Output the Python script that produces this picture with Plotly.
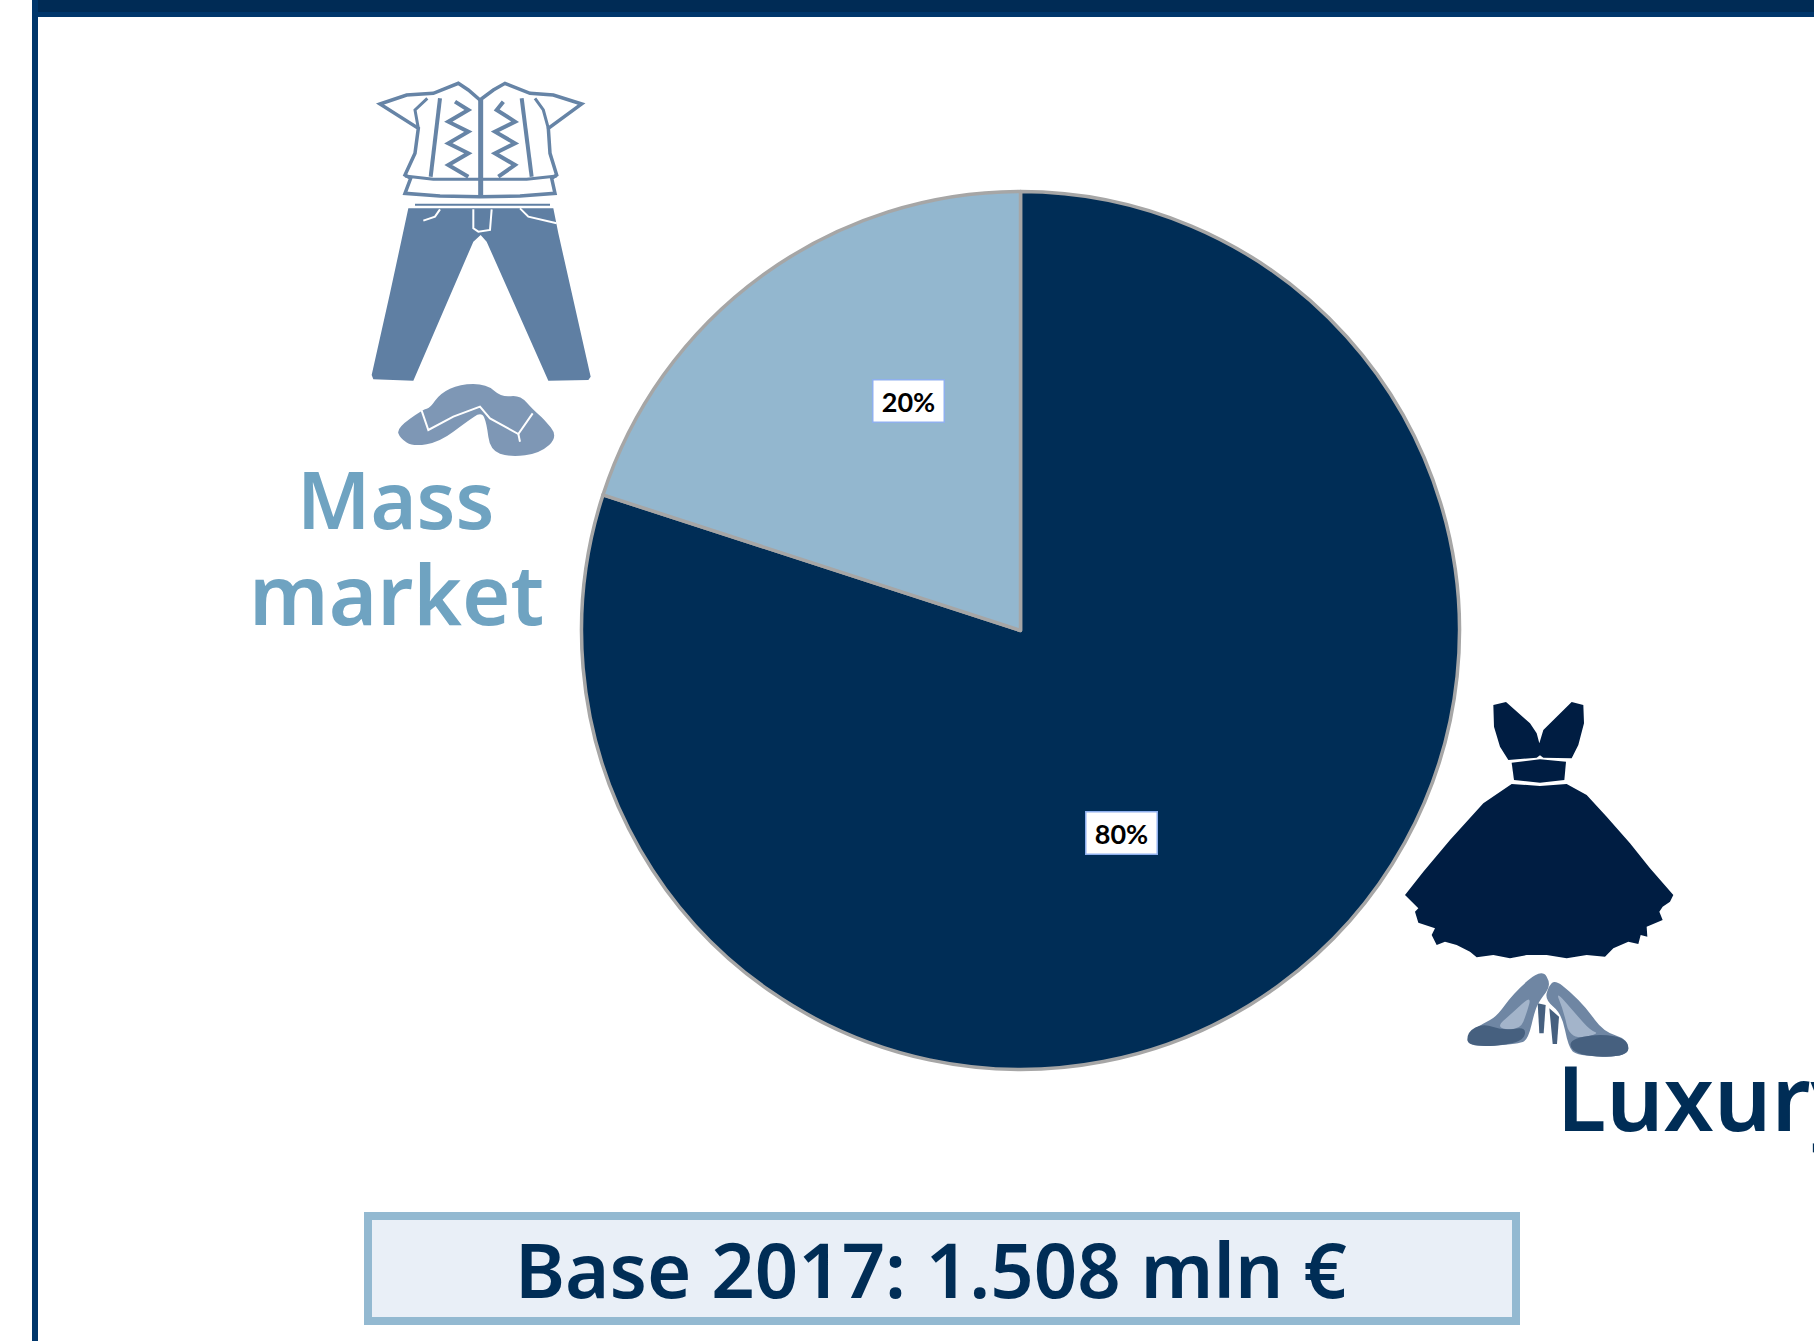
import plotly.graph_objects as go

W, H = 1814, 1341

categories = ["Luxury", "Mass market"]
shares = [80, 20]
base_note = "Base 2017: 1.508 mln €"

DARK = "#002D56"
LIGHT = "#93B7CF"
MASS_TXT = "#6FA3C1"
EDGE = "#A6A6A6"
FONT = "Noto Sans"


def px(x):
    return x / W


def py(y):
    return 1 - y / H


def _style(d, fill, line, width):
    return dict(type="path", xref="paper", yref="paper", path=d,
                fillcolor=fill if fill else "rgba(0,0,0,0)",
                line=dict(color=line if line else "rgba(0,0,0,0)", width=width),
                layer="above")


def poly(points, ox, oy, fill=None, line=None, width=0, closed=True):
    pts = [(ox + a / 3, oy + b / 3) for a, b in points]
    d = "M " + " L ".join(f"{px(a):.5f},{py(b):.5f}" for a, b in pts)
    if closed:
        d += " Z"
    return _style(d, fill, line, width)


def smooth(points, ox, oy, fill=None, line=None, width=0):
    """Closed outline rounded through the mid-points of its edges."""
    pts = [(ox + a / 3, oy + b / 3) for a, b in points]
    n = len(pts)
    mid = [((pts[i][0] + pts[(i + 1) % n][0]) / 2, (pts[i][1] + pts[(i + 1) % n][1]) / 2) for i in range(n)]
    d = f"M {px(mid[-1][0]):.5f},{py(mid[-1][1]):.5f}"
    for i in range(n):
        d += f" Q {px(pts[i][0]):.5f},{py(pts[i][1]):.5f} {px(mid[i][0]):.5f},{py(mid[i][1]):.5f}"
    return _style(d + " Z", fill, line, width)


def rect(x0, y0, x1, y1, fill, line=None, width=0):
    return dict(type="rect", xref="paper", yref="paper",
                x0=px(x0), x1=px(x1), y0=py(y0), y1=py(y1),
                fillcolor=fill, layer="above",
                line=dict(color=line if line else "rgba(0,0,0,0)", width=width))


shapes = [
    rect(32, 0, W, 17, "#00366B"),
    rect(38, 0, W, 12, "#002B55"),
    rect(32, 0, 38, H, "#00366B"),
    rect(368, 1216, 1516, 1321, "#E9EFF7", "#93B9D1", 8),
]

# ---- mass-market icon (reference crop at 340,60, crop units)
S_O, S_Y = 340, 60
SHIRT = "#6684A6"
shapes += [
    poly([(120, 132), (200, 105), (280, 100), (355, 70), (385, 90), (420, 120), (460, 90), (495, 70),
          (570, 100), (640, 105), (725, 132), (625, 205), (630, 280), (650, 345), (635, 355), (645, 400),
          (540, 408), (420, 410), (300, 408), (195, 400), (212, 355), (195, 345), (225, 280), (235, 205)],
         S_O, S_Y, "#FFFFFF", SHIRT, 3.5),
    poly([(345, 125), (385, 150), (325, 185), (385, 215), (325, 250), (385, 280), (325, 315), (385, 350)],
         S_O, S_Y, None, SHIRT, 4, False),
    poly([(490, 125), (470, 150), (525, 185), (465, 215), (525, 250), (465, 280), (525, 315), (475, 350)],
         S_O, S_Y, None, SHIRT, 4, False),
    poly([(422, 120), (422, 410)], S_O, S_Y, None, SHIRT, 5, False),
    poly([(300, 115), (272, 350)], S_O, S_Y, None, SHIRT, 4, False),
    poly([(545, 115), (575, 350)], S_O, S_Y, None, SHIRT, 4, False),
    poly([(195, 348), (280, 358), (560, 358), (650, 348)], S_O, S_Y, None, SHIRT, 3, False),
    poly([(235, 205), (225, 150), (262, 115)], S_O, S_Y, None, SHIRT, 3, False),
    poly([(625, 205), (610, 150), (585, 115)], S_O, S_Y, None, SHIRT, 3, False),
]
JEANS = "#5F7FA3"
shapes += [
    poly([(225, 434), (630, 434)], S_O, S_Y, None, JEANS, 2, False),
    poly([(205, 445), (640, 445), (655, 520), (752, 950), (745, 960), (625, 962), (440, 545), (422, 525),
          (400, 545), (220, 962), (100, 958), (95, 945), (150, 700)], S_O, S_Y, JEANS),
    poly([(250, 482), (285, 470), (300, 448)], S_O, S_Y, None, "#FFFFFF", 2, False),
    poly([(400, 448), (400, 505), (415, 515), (450, 510), (455, 448)], S_O, S_Y, None, "#FFFFFF", 2, False),
    poly([(540, 445), (565, 470), (650, 490)], S_O, S_Y, None, "#FFFFFF", 2, False),
]
FLOP = "#7E97B5"
shapes += [
    smooth([(170, 1105), (250, 1048), (270, 1045), (300, 1000), (360, 972), (440, 972), (485, 1012),
            (540, 1005), (580, 1050), (610, 1075), (655, 1130), (600, 1180), (510, 1192),
            (450, 1170), (440, 1090), (425, 1055), (380, 1085), (300, 1145), (220, 1160), (180, 1135)],
           S_O, S_Y, FLOP),
    poly([(245, 1052), (265, 1110), (340, 1070), (420, 1040), (450, 1075), (535, 1122), (578, 1060)],
         S_O, S_Y, None, "#FFFFFF", 2, False),
    poly([(535, 1122), (540, 1145)], S_O, S_Y, None, "#FFFFFF", 2, False),
]

# ---- luxury icon (reference crop at 1380,680, crop units)
D_O, D_Y = 1380, 680
DRESS = "#001D42"
shapes += [
    poly([(340, 75), (378, 66), (450, 130), (470, 160), (478, 190), (490, 150), (575, 66), (610, 75), (612, 130),
          (595, 195), (575, 235), (490, 233), (480, 226), (470, 233), (385, 240), (360, 200), (342, 140)],
         D_O, D_Y, DRESS),
    poly([(395, 248), (480, 238), (558, 245), (553, 300), (480, 308), (402, 300)], D_O, D_Y, DRESS),
    poly([(395, 312), (480, 318), (560, 312), (620, 345), (680, 410), (750, 490), (810, 565), (880, 645), (870, 665),
          (848, 680), (838, 695), (848, 720), (800, 740), (802, 770), (782, 765), (775, 792), (745, 785), (700, 805),
          (675, 830), (620, 825), (560, 835), (500, 825), (440, 825), (390, 835), (340, 825), (290, 832), (270, 815),
          (230, 795), (195, 785), (170, 795), (155, 765), (165, 745), (115, 728), (105, 695), (115, 685), (75, 645),
          (130, 575), (210, 480), (310, 370)], D_O, D_Y, DRESS),
]
SHOE = "#46607F"
SHOE_IN = "#A3B4CA"
SHOE_MID = "#6F86A3"
shapes += [
    poly([(473, 970), (497, 975), (491, 1060), (478, 1060)], D_O, D_Y, SHOE),
    poly([(508, 985), (537, 1010), (531, 1092), (518, 1092)], D_O, D_Y, SHOE),
    smooth([(265, 1060), (310, 1030), (350, 1010), (400, 940), (485, 865), (515, 915), (480, 960), (465, 990),
            (445, 1075), (420, 1092), (262, 1102)], D_O, D_Y, SHOE_MID),
    smooth([(345, 1045), (395, 1000), (455, 945), (440, 1000), (420, 1050)], D_O, D_Y, SHOE_IN),
    smooth([(262, 1055), (310, 1030), (370, 1052), (442, 1040), (425, 1092), (262, 1102)], D_O, D_Y, SHOE),
    smooth([(525, 900), (570, 935), (620, 985), (670, 1055), (745, 1078), (745, 1132), (590, 1128), (565, 1100),
            (545, 1000), (495, 960), (505, 920)], D_O, D_Y, SHOE_MID),
    smooth([(525, 930), (590, 1005), (630, 1050), (660, 1062), (570, 1078), (550, 990)], D_O, D_Y, SHOE_IN),
    smooth([(560, 1080), (660, 1060), (745, 1078), (745, 1132), (590, 1128)], D_O, D_Y, SHOE),
]


def label(text, cx, cy):
    return dict(text=f"<b>{text}</b>", x=px(cx), y=py(cy), xref="paper", yref="paper",
                xanchor="center", yanchor="middle", showarrow=False,
                font=dict(family="Lato", size=27, color="#000000"),
                bgcolor="#FFFFFF", bordercolor="#8FB0EE", borderwidth=1.5,
                width=68, height=39)


def big(text, x, y, size, color, anchor="center", weight=600):
    return dict(text=text, x=px(x), y=py(y), xref="paper", yref="paper",
                xanchor=anchor, yanchor="middle", showarrow=False, align=anchor,
                font=dict(family=FONT, size=size, color=color, weight=weight))


annotations = [
    label(f"{shares[1]}%", 908, 401),
    label(f"{shares[0]}%", 1121, 833),
    big("Mass", 396, 498, 79, MASS_TXT),
    big("market", 396, 593, 83, MASS_TXT),
    big(categories[0], 1555, 1096, 90, DARK, "left", 600),
    big(base_note, 931, 1268, 76, DARK),
]

fig = go.Figure(go.Pie(
    labels=categories,
    values=shares,
    sort=False,
    direction="clockwise",
    rotation=0,
    textinfo="none",
    hoverinfo="label+percent",
    showlegend=False,
    marker=dict(colors=[DARK, LIGHT], line=dict(color=EDGE, width=3.5)),
    domain=dict(x=[px(1020.5 - 439), px(1020.5 + 439)], y=[py(630.5 + 439), py(630.5 - 439)]),
))
fig.update_layout(
    width=W, height=H,
    margin=dict(l=0, r=0, t=0, b=0),
    paper_bgcolor="#FFFFFF",
    shapes=shapes,
    annotations=annotations,
    showlegend=False,
)
fig.write_html("out.html", config=dict(displayModeBar=False),
               post_script="document.body.style.margin='0';document.body.style.overflow='hidden';")
